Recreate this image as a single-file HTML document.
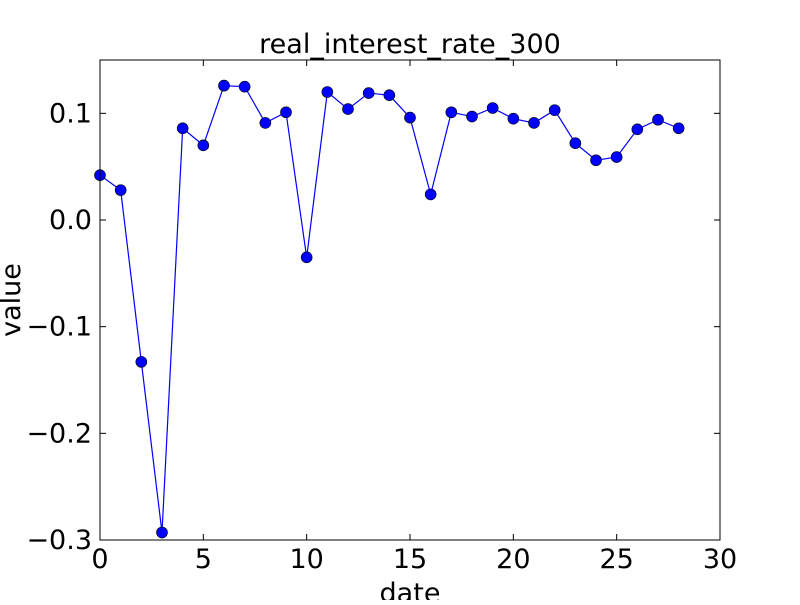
<!DOCTYPE html>
<html><head><meta charset="utf-8"><style>
body{margin:0;background:#fff;}
svg text{font-family:"DejaVu Sans","Liberation Sans",sans-serif;}
</style></head><body>
<svg id="chart" width="800" height="600" xmlns="http://www.w3.org/2000/svg">
<rect width="800" height="600" fill="#fff"/>
<text x="410" y="53" font-size="27" text-anchor="middle">real_interest_rate_300</text>
<g id="axes"></g>
<text x="410" y="602" font-size="27" text-anchor="middle">date</text>
<text transform="translate(20,300) rotate(-90)" font-size="27" text-anchor="middle">value</text>
</svg>
<script>
const values=[0.042,0.028,-0.133,-0.293,0.086,0.070,0.126,0.125,0.091,0.101,-0.035,0.120,0.104,0.119,0.117,0.096,0.024,0.101,0.097,0.105,0.095,0.091,0.103,0.072,0.056,0.059,0.085,0.094,0.086];
const xTicks=[0,5,10,15,20,25,30];
const yTicks=[-0.3,-0.2,-0.1,0.0,0.1];
const yTickLabels=["\u22120.3","\u22120.2","\u22120.1","0.0","0.1"];
const L=100,R=720,T=60,B=540,xMin=0,xMax=30,yMin=-0.3,yMax=0.15;
const sx=v=>L+(v-xMin)/(xMax-xMin)*(R-L);
const sy=v=>B-(v-yMin)/(yMax-yMin)*(B-T);
const NS="http://www.w3.org/2000/svg";
const g=document.getElementById('axes');
function mk(t,a){const e=document.createElementNS(NS,t);for(const k in a)e.setAttribute(k,a[k]);g.appendChild(e);return e;}
let pts=values.map((v,i)=>sx(i)+','+sy(v)).join(' ');
const line=mk('polyline',{points:pts,fill:'none',stroke:'#0000ff','stroke-width':1.2});


values.forEach((v,i)=>{const c=mk('circle',{cx:sx(i),cy:sy(v),r:5.5,fill:'#0000ff',stroke:'#000','stroke-width':0.6});

});
xTicks.forEach(t=>{const x=sx(t);
mk('line',{x1:x,x2:x,y1:B,y2:B-6,stroke:'#000'});mk('line',{x1:x,x2:x,y1:T,y2:T+6,stroke:'#000'});
const tx=mk('text',{x:x,y:B+28,'font-size':27,'text-anchor':'middle'});tx.textContent=t;

});
yTicks.forEach((t,i)=>{const y=sy(t);
mk('line',{x1:L,x2:L+6,y1:y,y2:y,stroke:'#000'});mk('line',{x1:R,x2:R-6,y1:y,y2:y,stroke:'#000'});
const tx=mk('text',{x:L-8,y:y+9,'font-size':27,'text-anchor':'end'});tx.textContent=yTickLabels[i];

});
const fr=mk('rect',{x:L,y:T,width:R-L,height:B-T,fill:'none',stroke:'#000','stroke-width':1});


</script>
</body></html>
